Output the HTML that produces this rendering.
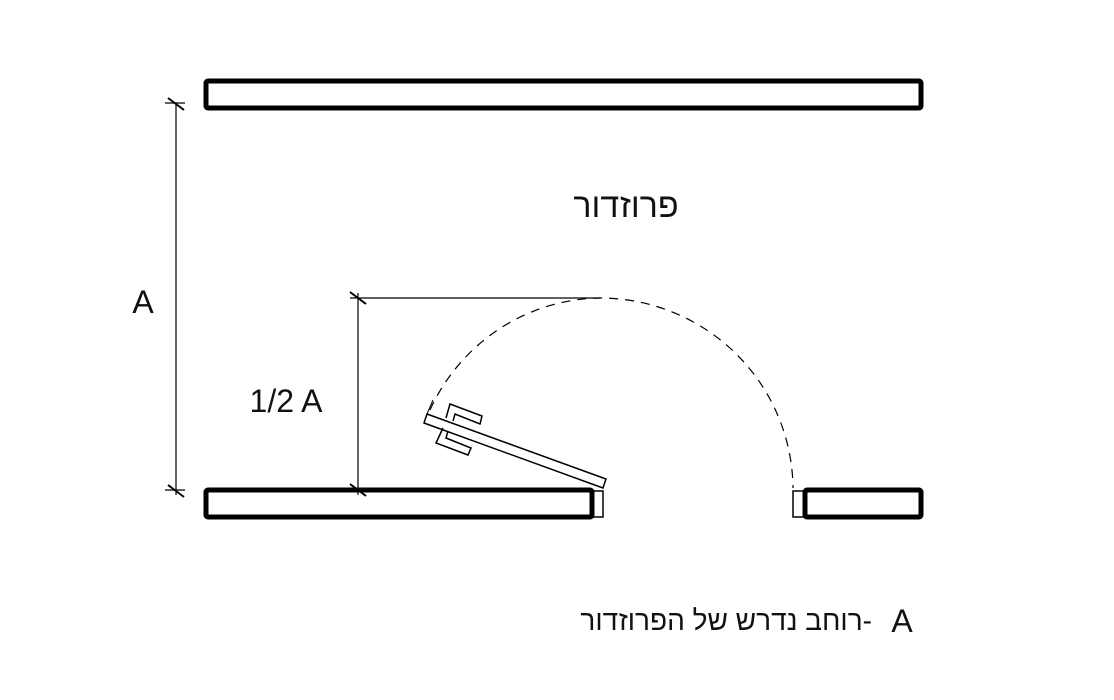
<!DOCTYPE html>
<html><head><meta charset="utf-8"><style>
html,body{margin:0;padding:0;background:#fff;}
svg{display:block;}
text{font-family:"Liberation Sans","DejaVu Sans",sans-serif;fill:#111;}
</style></head><body>
<svg width="1114" height="700" viewBox="0 0 1114 700" xmlns="http://www.w3.org/2000/svg">
<g fill="none" stroke="#000">
<rect x="206" y="81" width="715" height="27" stroke-width="5" rx="2"/>
<rect x="206" y="490" width="386" height="27" stroke-width="5" rx="2"/>
<rect x="805" y="490" width="116" height="27" stroke-width="5" rx="2"/>
<rect x="592" y="491" width="11" height="26" stroke-width="1.5"/>
<rect x="793" y="491" width="11" height="26" stroke-width="1.5"/>
<path d="M430 410 A 190 192 0 0 1 600 298 A 193 192 0 0 1 793 488" stroke-width="1.2" stroke-dasharray="9 7"/>
<polygon points="606,479 427,414 424,423 603,488" stroke-width="1.5"/>
<polyline points="446,418 450,404 482,416 480,424 455,414 453,421" stroke-width="1.5"/>
<polyline points="443,428 436,443 468,455 471,448 446,438 448,431" stroke-width="1.5"/>
<line x1="427" y1="414" x2="433" y2="400" stroke-width="1"/>
<line x1="176" y1="103" x2="176" y2="495" stroke-width="1.2"/>
<line x1="165" y1="103" x2="185" y2="103" stroke-width="1.2"/>
<line x1="168" y1="98" x2="184" y2="110" stroke-width="2"/>
<line x1="165" y1="490" x2="185" y2="490" stroke-width="1.2"/>
<line x1="168" y1="485" x2="184" y2="497" stroke-width="2"/>
<line x1="358" y1="293" x2="358" y2="495" stroke-width="1.2"/>
<line x1="350" y1="298" x2="600" y2="298" stroke-width="1.2"/>
<line x1="350" y1="292" x2="366" y2="304" stroke-width="2"/>
<line x1="350" y1="484" x2="366" y2="496" stroke-width="2"/>
<line x1="350" y1="490" x2="370" y2="490" stroke-width="1.2"/>
</g>
<text x="143" y="313" font-size="32" text-anchor="middle">A</text>
<text x="286" y="412" font-size="32" text-anchor="middle">1/2 A</text>
<text x="626" y="217" font-size="34" text-anchor="middle">פרוזדור</text>
<text x="872" y="630" font-size="28" text-anchor="start" direction="rtl">-רוחב נדרש של הפרוזדור</text>
<text x="902" y="632" font-size="32" text-anchor="middle">A</text>
</svg>
</body></html>
